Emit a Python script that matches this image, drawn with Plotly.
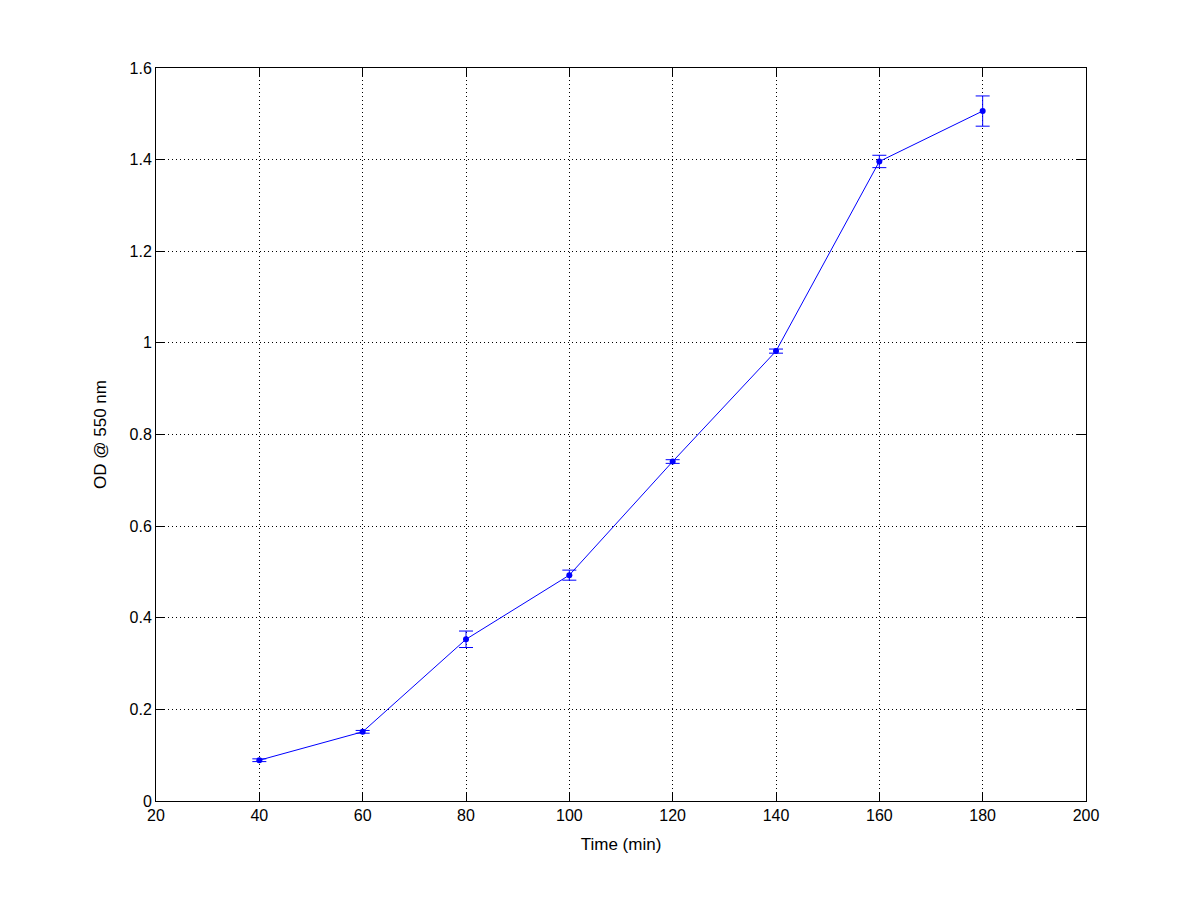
import plotly.graph_objects as go

time_min = [40, 60, 80, 100, 120, 140, 160, 180]
od550 = [0.089, 0.151, 0.353, 0.493, 0.741, 0.982, 1.396, 1.506]
od_err = [0.003, 0.003, 0.018, 0.011, 0.004, 0.0045, 0.0135, 0.033]

fig = go.Figure()
fig.add_trace(go.Scatter(
    x=time_min, y=od550, mode="lines+markers",
    line=dict(color="rgb(0,0,255)", width=1),
    marker=dict(color="rgb(0,0,255)", size=6, symbol="circle"),
    error_y=dict(type="data", array=od_err, visible=True, color="rgb(0,0,255)", thickness=1, width=7),
    showlegend=False,
))

axis_common = dict(
    showline=True, linecolor="black", linewidth=1, mirror="ticks",
    ticks="inside", ticklen=9, tickcolor="black", tickwidth=1,
    showgrid=True, gridcolor="black", griddash="1px,3px", gridwidth=1,
    zeroline=False,
    tickfont=dict(family="Liberation Sans, Arial, sans-serif", size=16, color="black"),
    title_font=dict(family="Liberation Sans, Arial, sans-serif", size=17, color="black"),
)

fig.update_layout(
    width=1200, height=900,
    paper_bgcolor="white", plot_bgcolor="white",
    margin=dict(l=148, r=122, t=60, b=107),
    xaxis=dict(range=[20, 200], tickvals=[20, 40, 60, 80, 100, 120, 140, 160, 180, 200],
               title=dict(text="Time (min)", standoff=14), **axis_common),
    yaxis=dict(range=[0, 1.6], tickvals=[0, 0.2, 0.4, 0.6, 0.8, 1, 1.2, 1.4, 1.6],
               ticktext=["0", "0.2", "0.4", "0.6", "0.8", "1", "1.2", "1.4", "1.6"],
               title=dict(text="OD @ 550 nm", standoff=18), **axis_common),
)

fig.write_html("out.html")
